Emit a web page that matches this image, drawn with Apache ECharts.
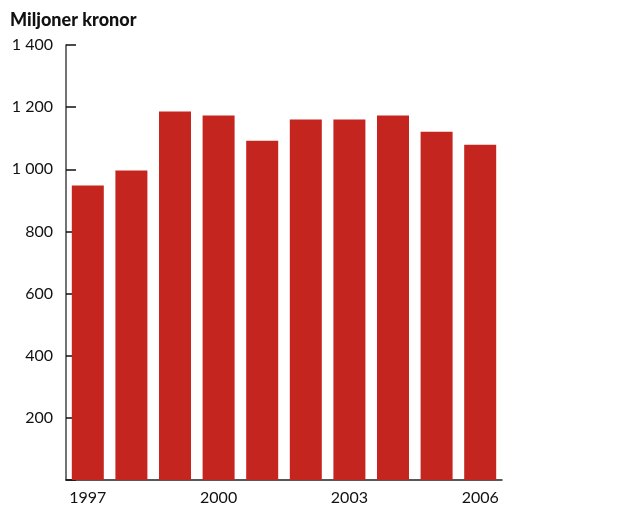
<!DOCTYPE html>
<html><head><meta charset="utf-8">
<script src="https://cdn.jsdelivr.net/npm/echarts@6/dist/echarts.min.js"></script>
<style>html,body{margin:0;padding:0;background:#fff}#c{width:629px;height:506px}</style>
</head><body><div id="c"></div>
<script>
const categories = ['1997','1998','1999','2000','2001','2002','2003','2004','2005','2006'];
const values = [948, 996, 1186, 1173, 1092, 1160, 1160, 1173, 1121, 1079];
const yTickLabels = {200:'200',400:'400',600:'600',800:'800',1000:'1 000',1200:'1 200',1400:'1 400'};
const title = 'Miljoner kronor';
const font = 'Lato';
const chart = echarts.init(document.getElementById('c'));
chart.setOption({
  animation:false,
  title:{text:title,left:5,top:6,textStyle:{fontFamily:font,fontWeight:900,fontSize:18,color:'#111'}},
  grid:{left:66,right:127,top:45,bottom:25,containLabel:false},
  xAxis:{type:'category',data:categories,boundaryGap:true,
    axisLine:{lineStyle:{color:'#222',width:1.5}},axisTick:{show:false},
    axisLabel:{interval:2,color:'#111',fontFamily:font,fontSize:16,margin:10}},
  yAxis:{type:'value',min:0,max:1400,interval:200,
    axisLine:{show:true,lineStyle:{color:'#444',width:1.5}},
    axisTick:{show:true,inside:true,length:10,lineStyle:{color:'#111',width:1.5}},
    splitLine:{show:false},
    axisLabel:{color:'#111',fontFamily:font,fontSize:16,margin:13,
      formatter:v=>yTickLabels[v]||''}},
  series:[{type:'bar',data:values,barCategoryGap:'26.6%',itemStyle:{color:'#C5251F'}}]
});
</script></body></html>
